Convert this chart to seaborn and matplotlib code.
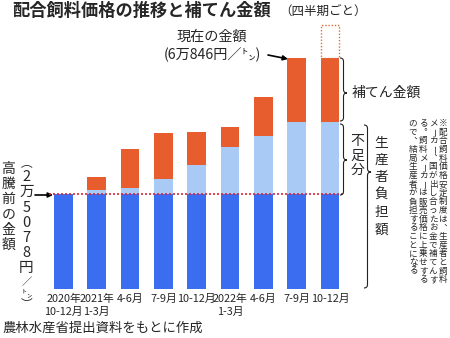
import numpy as np
import pandas as pd
import matplotlib
matplotlib.use("Agg")
import matplotlib.pyplot as plt
from matplotlib.path import Path
from matplotlib.patches import PathPatch
from matplotlib.transforms import Affine2D
import seaborn as sns

# ---------------- data ----------------
quarters = ["2020年\n10-12月", "2021年\n1-3月", "4-6月", "7-9月", "10-12月",
            "2022年\n1-3月", "4-6月", "7-9月", "10-12月"]
base_price = [25078, 25078, 25078, 25078, 25078, 25078, 25078, 25078, 25078]   # 高騰前の金額
shortfall = [0, 1030, 1640, 3850, 7620, 12290, 15350, 19040, 19040]            # 不足分（生産者負担）
subsidy = [0, 3510, 10120, 12290, 8790, 5280, 10130, 16728, 16728]             # 補てん金額
projected_extra = [0, 0, 0, 0, 0, 0, 0, 0, 8780]                                # 点線部分

W, H = 450, 338
FAM = ["Noto Sans CJK JP", "DejaVu Sans"]

sns.set_style("white")
plt.rcParams["font.family"] = FAM

C_DARK = "#3A6DF0"
C_LIGHT = "#A8CAF4"
C_ORANGE = "#E85D2E"

fig = plt.figure(figsize=(W / 100, H / 100), dpi=100)
T = Affine2D().scale(1 / W, -1 / H).translate(0, 1) + fig.transFigure

# axes placement (pixels)
ax_left, ax_right, ax_bottom, ax_top = 46.85, 346.65, 289, 20
ax = fig.add_axes([ax_left / W, (H - ax_bottom) / H,
                   (ax_right - ax_left) / W, (ax_bottom - ax_top) / H])

df = pd.DataFrame({
    "q": list(range(len(quarters))),
    "base": base_price,
    "producer": np.array(base_price) + np.array(shortfall),
    "total": np.array(base_price) + np.array(shortfall) + np.array(subsidy),
})

bw = 0.56
sns.barplot(data=df, x="q", y="total", color=C_ORANGE, saturation=1, width=bw,
            linewidth=0, ax=ax, errorbar=None)
sns.barplot(data=df, x="q", y="producer", color=C_LIGHT, saturation=1, width=bw,
            linewidth=0, ax=ax, errorbar=None)
sns.barplot(data=df, x="q", y="base", color=C_DARK, saturation=1, width=bw,
            linewidth=0, ax=ax, errorbar=None)

# dotted box for projected price
for i, e in enumerate(projected_extra):
    if e > 0:
        ax.bar([i], [e], bottom=[df["total"][i]], width=bw, fill=False,
               edgecolor="#D9703A", linestyle=(0, (1, 1.3)), linewidth=1.0)

# red dotted reference line
ax.hlines(base_price[0], -0.45, 8.38, colors="#D6263A", linestyles=(0, (1.2, 1.2)),
          linewidth=1.2, zorder=5)

ymax = (ax_bottom - ax_top) * 263.74
ax.set_ylim(0, ymax)
ax.set_xlim(-0.5, 8.5)
for s in ax.spines.values():
    s.set_visible(False)
ax.set_yticks([])
ax.set_ylabel("")
ax.set_xlabel("")
ax.set_xticks(range(len(quarters)))
ax.set_xticklabels(quarters, fontsize=7.8, linespacing=1.35, family=FAM)
ax.tick_params(axis="x", length=0, pad=3.5)
ax.patch.set_alpha(0)

# ---------------- text helpers ----------------
def ptext(x, y, s, **kw):
    kw.setdefault("family", FAM)
    fig.text(x, y, s, transform=T, **kw)


VERT = {"（": "︵", "）": "︶", "、": "︑", "。": "︒"}


def vtext(x, y0, s, size, pitch, narrow="（）㌧／", sizes=None, nadv=0.62, **kw):
    y = y0
    for ch in s:
        a = pitch * (nadv if ch in narrow else 1.0)
        y += a / 2
        rot = 0
        g = VERT.get(ch, ch)
        if ch == "ー":
            rot = -90
        fs = size * (sizes.get(ch, 1.0) if sizes else 1.0)
        fig.text(x, y, g, transform=T, ha="center", va="center",
                 rotation=rot, rotation_mode="anchor", fontsize=fs,
                 family=FAM, **kw)
        y += a / 2


def brace(x0, y1, y2, ym, w=3.5, tip=3.5, lw=0.8):
    verts = [(x0, y1), (x0 + w, y1), (x0 + w, y1 + w),
             (x0 + w, ym - w),
             (x0 + w, ym), (x0 + w + tip, ym),
             (x0 + w, ym), (x0 + w, ym + w),
             (x0 + w, y2 - w),
             (x0 + w, y2), (x0, y2)]
    codes = [Path.MOVETO, Path.CURVE3, Path.CURVE3, Path.LINETO,
             Path.CURVE3, Path.CURVE3, Path.CURVE3, Path.CURVE3,
             Path.LINETO, Path.CURVE3, Path.CURVE3]
    fig.add_artist(PathPatch(Path(verts, codes), transform=T, fill=False,
                             lw=lw, ec="#222222"))

# title
ptext(12, 11, "配合飼料価格の推移と補てん金額", fontsize=12.4, fontweight="bold",
      ha="left", va="center")
ptext(279, 11, "（四半期ごと）", fontsize=9, ha="left", va="center")

# current price annotation
ptext(212, 37, "現在の金額", fontsize=10.2, ha="center", va="center")
ptext(212, 55, "(6万846円／㌧)", fontsize=10.2, ha="center", va="center")
ax.annotate("", xy=(288, 59), xytext=(268, 55), xycoords=T, textcoords=T,
            arrowprops=dict(arrowstyle="-|>", color="black", lw=1.2,
                            mutation_scale=7, shrinkA=0, shrinkB=0),
            annotation_clip=False)

# left: pre-surge price
vtext(8.5, 161, "高騰前の金額", 10, 15.3)
vtext(26.5, 158, "（2万5078円／㌧）", 10.5, 15.2, nadv=0.76,
      sizes={"／": 0.7, "㌧": 0.7, "（": 0.8, "）": 0.8})
ax.annotate("", xy=(53, 195), xytext=(35, 195), xycoords=T, textcoords=T,
            arrowprops=dict(arrowstyle="-|>", color="black", lw=1.2,
                            mutation_scale=7, shrinkA=0, shrinkB=0),
            annotation_clip=False)

# right braces and labels
brace(340, 58, 121, 93)
ptext(352, 93, "補てん金額", fontsize=10, ha="left", va="center")
brace(340, 124, 195, 160)
vtext(357.5, 134, "不足分", 10, 14.5)
brace(364, 125, 288, 172)
vtext(381.5, 134, "生産者負担額", 9.8, 17.4)

# note columns (right to left)
notes = ["※配合飼料価格安定制度は、生産者と飼料",
         "メーカー、国が出し合ったお金で補てんす",
         "る。飼料メーカーは販売価格に上乗せする",
         "ので、結局生産者が負担することになる"]
note_x = [443, 433, 423, 413]
for s, x in zip(notes, note_x):
    vtext(x, 119, s, 6.2, 8.7)

# source
ptext(2, 328, "農林水産省提出資料をもとに作成", fontsize=9.6, ha="left", va="center")

fig.savefig("out.png", dpi=100)
